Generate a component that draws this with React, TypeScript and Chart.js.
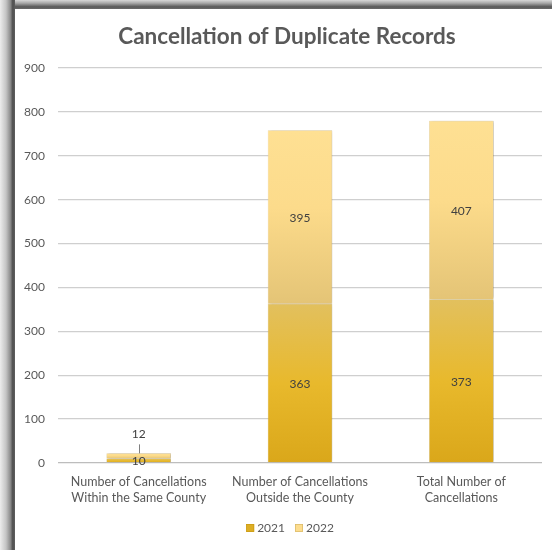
import React, { useEffect, useRef } from "react";
import { Chart, registerables } from "chart.js";

Chart.register(...registerables);

const titleText = "Cancellation of Duplicate Records";
const categories: string[][] = [
  ["Number of Cancellations", "Within the Same County"],
  ["Number of Cancellations", "Outside the County"],
  ["Total Number of", "Cancellations"],
];
const seriesNames = ["2021", "2022"];
const values2021 = [10, 363, 373];
const values2022 = [12, 395, 407];
const yMin = 0;
const yMax = 900;
const yStep = 100;

const FONT = "Lato, 'Open Sans', sans-serif";
const TEXT = "#595959";

const stops2021: [number, string][] = [
  [0, "#E2C05E"],
  [0.5, "#E8B92C"],
  [1, "#DAA71A"],
];
const stops2022: [number, string][] = [
  [0, "#FEE093"],
  [0.45, "#FCDB8B"],
  [1, "#E4C476"],
];
const legendFill = ["#DDAE24", "#FDDD8E"];
const legendStroke = ["#C99A14", "#D8B868"];

function segmentFill(c: any, dsIndex: number) {
  const stops = dsIndex === 0 ? stops2021 : stops2022;
  const chart = c.chart;
  const i = c.dataIndex;
  if (!chart.chartArea || i == null || !chart.scales?.y) return stops[1][1];
  const base = dsIndex === 0 ? 0 : values2021[i];
  const top = base + (dsIndex === 0 ? values2021[i] : values2022[i]);
  const y0 = chart.scales.y.getPixelForValue(base);
  const y1 = chart.scales.y.getPixelForValue(top);
  if (!isFinite(y0) || !isFinite(y1) || y0 === y1) return stops[1][1];
  const g = chart.ctx.createLinearGradient(0, y1, 0, y0);
  stops.forEach(([o, col]) => g.addColorStop(o, col));
  return g;
}

const shadowPlugin = {
  id: "barShadow",
  beforeDatasetsDraw(chart: any) {
    const ctx = chart.ctx;
    ctx.save();
    ctx.shadowColor = "rgba(0,0,0,0.28)";
    ctx.shadowBlur = 3;
    ctx.shadowOffsetX = 1.5;
    ctx.shadowOffsetY = 0;
  },
  afterDatasetsDraw(chart: any) {
    chart.ctx.restore();
  },
};

const labelPlugin = {
  id: "segLabels",
  afterDatasetsDraw(chart: any) {
    const ctx = chart.ctx;
    ctx.save();
    ctx.font = `12px ${FONT}`;
    ctx.fillStyle = "#404040";
    ctx.textAlign = "center";
    ctx.textBaseline = "middle";
    chart.data.datasets.forEach((ds: any, di: number) => {
      const meta = chart.getDatasetMeta(di);
      meta.data.forEach((el: any, i: number) => {
        const { x, y, base } = el.getProps(["x", "y", "base"], true);
        const h = Math.abs(base - y);
        const txt = String(ds.data[i]);
        if (h < 12 && di === 1) {
          ctx.strokeStyle = "#7F7F7F";
          ctx.lineWidth = 1;
          ctx.beginPath();
          ctx.moveTo(Math.round(x) + 0.5, y - 9);
          ctx.lineTo(Math.round(x) + 0.5, y);
          ctx.stroke();
          ctx.fillText(txt, x, y - 19);
        } else {
          ctx.fillText(txt, x, (y + base) / 2 + 1);
        }
      });
    });
    ctx.restore();
  },
};

const titleLegendPlugin = {
  id: "titleLegend",
  afterDraw(chart: any) {
    const ctx = chart.ctx;
    const ca = chart.chartArea;
    const cx = (ca.left + ca.right) / 2 - 13;
    ctx.save();
    // title
    ctx.font = `bold 22.5px ${FONT}`;
    ctx.fillStyle = TEXT;
    ctx.textAlign = "center";
    ctx.textBaseline = "middle";
    ctx.fillText(titleText, cx, 28);
    // legend
    ctx.font = `12px ${FONT}`;
    ctx.textAlign = "left";
    const box = 8;
    const gapBoxText = 3;
    const gapItems = 10;
    const widths = seriesNames.map((s) => box + gapBoxText + ctx.measureText(s).width);
    const total = widths.reduce((a, b) => a + b, 0) + gapItems * (widths.length - 1);
    let x = (ca.left + ca.right) / 2 - 10 - total / 2;
    const y = 519;
    seriesNames.forEach((s, i) => {
      ctx.fillStyle = legendFill[i];
      ctx.strokeStyle = legendStroke[i];
      ctx.lineWidth = 0.7;
      ctx.fillRect(x, y - box / 2, box, box);
      ctx.strokeRect(x + 0.35, y - box / 2 + 0.35, box - 0.7, box - 0.7);
      ctx.fillStyle = TEXT;
      ctx.fillText(s, x + box + gapBoxText, y + 0.5);
      x += widths[i] + gapItems;
    });
    ctx.restore();
  },
};

export default function App() {
  const ref = useRef<HTMLCanvasElement | null>(null);

  useEffect(() => {
    document.body.style.margin = "0";
    if (!ref.current) return;
    const chart = new Chart(ref.current, {
      type: "bar",
      data: {
        labels: categories,
        datasets: [
          {
            label: seriesNames[0],
            data: values2021,
            backgroundColor: (c: any) => segmentFill(c, 0),
            borderColor: "rgba(190,150,30,0.6)",
            borderWidth: 0.5,
            categoryPercentage: 1,
            barPercentage: 0.4,
          },
          {
            label: seriesNames[1],
            data: values2022,
            backgroundColor: (c: any) => segmentFill(c, 1),
            borderColor: "rgba(210,175,90,0.6)",
            borderWidth: 0.5,
            categoryPercentage: 1,
            barPercentage: 0.4,
          },
        ],
      },
      options: {
        animation: false,
        responsive: false,
        maintainAspectRatio: false,
        layout: { padding: { top: 59, left: 0, right: 19, bottom: 38 } },
        plugins: {
          title: { display: false },
          legend: { display: false },
          tooltip: { enabled: false },
        },
        scales: {
          x: {
            stacked: true,
            grid: { display: false },
            border: { display: false },
            ticks: {
              color: TEXT,
              font: { family: FONT, size: 12.5, lineHeight: 1.3 },
              padding: 3,
              maxRotation: 0,
              autoSkip: false,
            },
            afterFit: (s: any) => {
              s.height = 49;
            },
          },
          y: {
            stacked: true,
            min: yMin,
            max: yMax,
            border: { display: false },
            grid: {
              drawTicks: false,
              color: (c: any) => (c.tick && c.tick.value === 0 ? "#BDBDBD" : "#CFCFCF"),
              lineWidth: 1.3,
            },
            ticks: {
              stepSize: yStep,
              color: TEXT,
              font: { family: FONT, size: 12 },
              padding: 13,
            },
            afterFit: (s: any) => {
              s.width = 43;
            },
          },
        },
      },
      plugins: [shadowPlugin, labelPlugin, titleLegendPlugin],
    });
    return () => chart.destroy();
  }, []);

  return (
    <div style={{ position: "relative", width: 552, height: 550, overflow: "hidden", background: "#fff" }}>
      <canvas
        ref={ref}
        width={546}
        height={541}
        style={{ position: "absolute", left: 15, top: 9, width: 546, height: 541 }}
      />
      <div
        style={{
          position: "absolute",
          left: 0,
          top: 0,
          width: 552,
          height: 9,
          background: "linear-gradient(to bottom, #d8d8d8 0%, #a8a8a8 35%, #5a5a5a 75%, #6a6a6a 100%)",
        }}
      />
      <div
        style={{
          position: "absolute",
          left: 0,
          top: 0,
          width: 15,
          height: 550,
          background: "linear-gradient(to right, #ececec 0%, #c4c4c4 40%, #8a8a8a 70%, #4f4f4f 85%, #5f5f5f 100%)",
        }}
      />
    </div>
  );
}
